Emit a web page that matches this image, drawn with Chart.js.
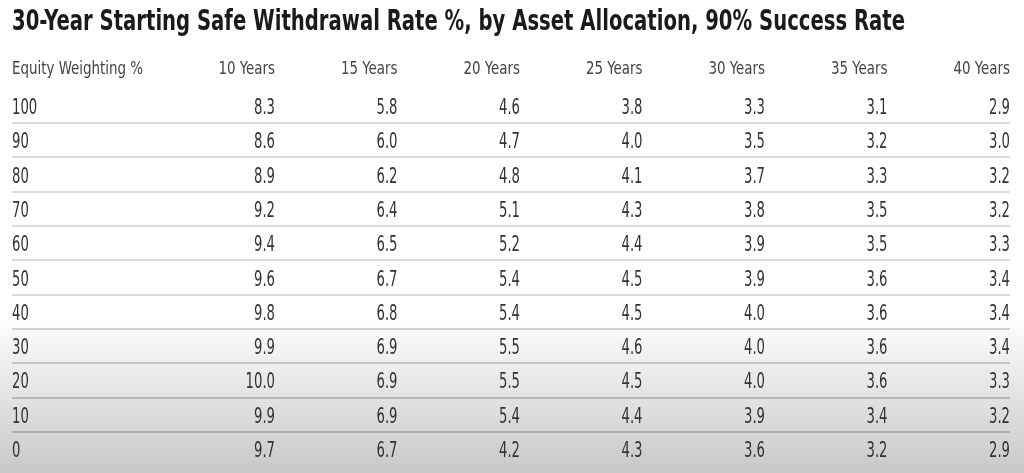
<!DOCTYPE html>
<html>
<head>
<meta charset="utf-8">
<script src="https://cdn.jsdelivr.net/npm/chart.js@4/dist/chart.umd.min.js"></script>
<style>
  html, body { margin: 0; padding: 0; background: #ffffff; }
  #wrap { width: 1024px; height: 473px; }
</style>
</head>
<body>
<div id="wrap"><canvas id="c" width="1024" height="473"></canvas></div>
<script>
// ---- data ----
const titleText = '30-Year Starting Safe Withdrawal Rate %, by Asset Allocation, 90% Success Rate';
const rowHeader = 'Equity Weighting %';
const equityWeights = ['100', '90', '80', '70', '60', '50', '40', '30', '20', '10', '0'];
const horizons = ['10 Years', '15 Years', '20 Years', '25 Years', '30 Years', '35 Years', '40 Years'];
const rate10 = [8.3, 8.6, 8.9, 9.2, 9.4, 9.6, 9.8, 9.9, 10.0, 9.9, 9.7];
const rate15 = [5.8, 6.0, 6.2, 6.4, 6.5, 6.7, 6.8, 6.9, 6.9, 6.9, 6.7];
const rate20 = [4.6, 4.7, 4.8, 5.1, 5.2, 5.4, 5.4, 5.5, 5.5, 5.4, 4.2];
const rate25 = [3.8, 4.0, 4.1, 4.3, 4.4, 4.5, 4.5, 4.6, 4.5, 4.4, 4.3];
const rate30 = [3.3, 3.5, 3.7, 3.8, 3.9, 3.9, 4.0, 4.0, 4.0, 3.9, 3.6];
const rate35 = [3.1, 3.2, 3.3, 3.5, 3.5, 3.6, 3.6, 3.6, 3.6, 3.4, 3.2];
const rate40 = [2.9, 3.0, 3.2, 3.2, 3.3, 3.4, 3.4, 3.4, 3.3, 3.2, 2.9];
const seriesList = [rate10, rate15, rate20, rate25, rate30, rate35, rate40];

// ---- styling ----
const FAMILY = "'Liberation Sans Narrow', 'DejaVu Sans Condensed', 'Liberation Sans', sans-serif";
const colPitch = 122.5;  // px between column right edges
const plotLeft = 12, plotRight = 1010;

function condensedText(ctx, text, x, y, font, sx, color, align) {
  ctx.save();
  ctx.font = font;
  ctx.fillStyle = color;
  ctx.textAlign = align;
  ctx.textBaseline = 'alphabetic';
  ctx.translate(x, y);
  ctx.scale(sx, 1);
  ctx.fillText(text, 0, 0);
  ctx.restore();
}
function fitScale(ctx, font, sample, target) {
  ctx.save(); ctx.font = font;
  const w = ctx.measureText(sample).width;
  ctx.restore();
  return Math.min(1, target / w);
}

const tablePlugin = {
  id: 'tablePlugin',
  beforeDraw(chart) {
    const ctx = chart.ctx;
    const g = ctx.createLinearGradient(0, 315, 0, chart.height);
    g.addColorStop(0, '#ffffff');
    g.addColorStop(1, '#c8c8c8');
    ctx.save();
    ctx.fillStyle = '#ffffff';
    ctx.fillRect(0, 0, chart.width, chart.height);
    ctx.fillStyle = g;
    ctx.fillRect(0, 315, chart.width, chart.height - 315);
    ctx.restore();
  },
  afterDatasetsDraw(chart) {
    const ctx = chart.ctx;
    const xs = chart.scales.x, ys = chart.scales.y;
    const bodyFont = '22px ' + FAMILY;
    const sBody = fitScale(ctx, bodyFont, '8.3', 21);
    // values from dataset elements
    chart.data.datasets.forEach((ds, di) => {
      const meta = chart.getDatasetMeta(di);
      meta.data.forEach((pt, i) => {
        condensedText(ctx, ds.data[i].v.toFixed(1), pt.x, pt.y + 8, bodyFont, sBody, '#333333', 'right');
      });
    });
    // row labels
    equityWeights.forEach((lab, k) => {
      condensedText(ctx, lab, chart.chartArea.left, ys.getPixelForValue(k) + 8, bodyFont, sBody, '#333333', 'left');
    });
  },
  afterDraw(chart) {
    const ctx = chart.ctx;
    const xs = chart.scales.x;
    const headFont = '18px ' + FAMILY;
    const sHead = fitScale(ctx, headFont, rowHeader, 131);
    const hy = 73.5;
    condensedText(ctx, rowHeader, chart.chartArea.left, hy, headFont, sHead, '#444444', 'left');
    horizons.forEach((h, i) => {
      condensedText(ctx, h, xs.getPixelForValue(i + 1), hy, headFont, sHead, '#444444', 'right');
    });
    const titleFont = 'bold 28px ' + FAMILY;
    const sTitle = fitScale(ctx, titleFont, titleText, 893);
    condensedText(ctx, titleText, 12, 30, titleFont, sTitle, '#1a1a1a', 'left');
  }
};

const datasets = seriesList.map((vals, ci) => ({
  label: horizons[ci],
  data: vals.map((v, k) => ({ x: ci + 1, y: k, v: v })),
  pointRadius: 0,
  pointHoverRadius: 0,
  showLine: false
}));

new Chart(document.getElementById('c'), {
  type: 'scatter',
  data: { datasets },
  options: {
    responsive: false,
    devicePixelRatio: 1,
    animation: false,
    events: [],
    layout: { padding: { left: plotLeft, right: 1024 - plotRight, top: 88.85, bottom: 473 - 466.15 } },
    plugins: { legend: { display: false }, tooltip: { enabled: false }, title: { display: false } },
    scales: {
      x: {
        type: 'linear',
        display: false,
        min: horizons.length - (plotRight - plotLeft) / colPitch,
        max: horizons.length
      },
      y: {
        type: 'linear',
        reverse: true,
        min: -0.5,
        max: equityWeights.length - 0.5,
        afterBuildTicks(scale) {
          const t = [];
          for (let k = 0; k < equityWeights.length - 1; k++) t.push({ value: k + 0.5 });
          scale.ticks = t;
        },
        ticks: { display: false },
        border: { display: false },
        grid: {
          drawTicks: false,
          lineWidth: 2,
          color(c) {
            const v = c.tick ? c.tick.value : 0;
            if (v < 6) return '#dadada';
            if (v < 7) return '#d0d0d0';
            if (v < 8) return '#c4c4c4';
            if (v < 9) return '#b8b8b8';
            return '#adadad';
          }
        }
      }
    }
  },
  plugins: [tablePlugin]
});
</script>
</body>
</html>
